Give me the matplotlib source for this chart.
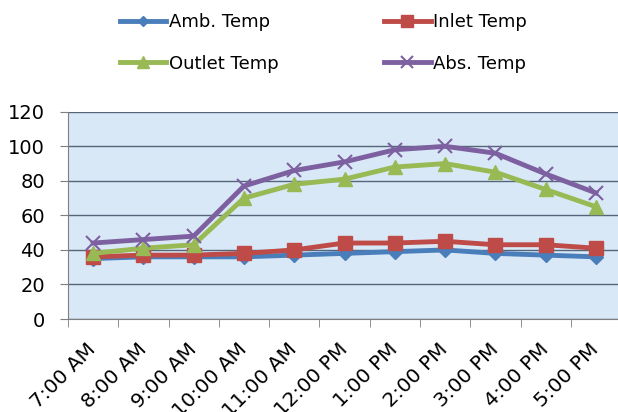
import matplotlib
matplotlib.use("Agg")
import matplotlib.pyplot as plt
import matplotlib.transforms as mtransforms
import numpy as np

categories = ["7:00 AM", "8:00 AM", "9:00 AM", "10:00 AM", "11:00 AM", "12:00 PM",
              "1:00 PM", "2:00 PM", "3:00 PM", "4:00 PM", "5:00 PM"]
amb = [35, 36, 36, 36, 37, 38, 39, 40, 38, 37, 36]
inlet = [36, 37, 37, 38, 40, 44, 44, 45, 43, 43, 41]
outlet = [38, 41, 43, 70, 78, 81, 88, 90, 85, 75, 65]
absorber = [44, 46, 48, 77, 86, 91, 98, 100, 96, 84, 73]
yticks = [0, 20, 40, 60, 80, 100, 120]

plt.rcParams['font.family'] = ['DejaVu Sans']

fig = plt.figure(figsize=(6.18, 4.12), dpi=100)
ax = fig.add_axes([0.110, 0.2257, 0.895, 0.503])
ax.set_facecolor('#d9e8f6')

x = np.arange(len(categories))
lw = 3.5
l1, = ax.plot(x, amb, color='#4a7ebb', lw=lw, marker='D', ms=7, label='Amb. Temp', zorder=3)
l2, = ax.plot(x, inlet, color='#be4b48', lw=lw, marker='s', ms=10, label='Inlet Temp', zorder=3)
l3, = ax.plot(x, outlet, color='#98b954', lw=lw, marker='^', ms=10, label='Outlet Temp', zorder=3)
l4, = ax.plot(x, absorber, color='#7d60a0', lw=lw, marker='x', ms=10, mew=1.5, label='Abs. Temp', zorder=3)

ax.set_xlim(-0.5, len(categories) - 0.5)
ax.set_ylim(0, 120)
ax.set_yticks(yticks)
ax.yaxis.grid(True, color='#55657a', lw=1.0)
ax.set_axisbelow(True)
ax.set_xticks(x)
ax.set_xticklabels(categories, rotation=45, ha='right', va='center',
                   rotation_mode='anchor', fontsize=14.5)
offset = mtransforms.ScaledTranslation(5 / 100, 0, fig.dpi_scale_trans)
for lab in ax.get_xticklabels():
    lab.set_transform(lab.get_transform() + offset)
ax.set_xticks(np.arange(len(categories) + 1) - 0.5, minor=True)
ax.tick_params(axis='x', which='major', length=0, pad=20)
ax.tick_params(axis='x', which='minor', length=6, color='#7f7f7f', direction='out')
ax.tick_params(axis='y', length=6, color='#7f7f7f', labelsize=14, pad=10.5)
for s in ['top', 'right']:
    ax.spines[s].set_visible(False)
for s in ['left', 'bottom']:
    ax.spines[s].set_color('#7f7f7f')

fig.legend(handles=[l1, l3, l2, l4], ncol=2, loc='upper left',
           bbox_to_anchor=(0.170, 1.003), frameon=False, fontsize=13,
           handlelength=2.6, handletextpad=0.15, columnspacing=5.8,
           labelspacing=1.3, borderpad=0.3, markerscale=0.8)

fig.savefig('out.png', dpi=100)
